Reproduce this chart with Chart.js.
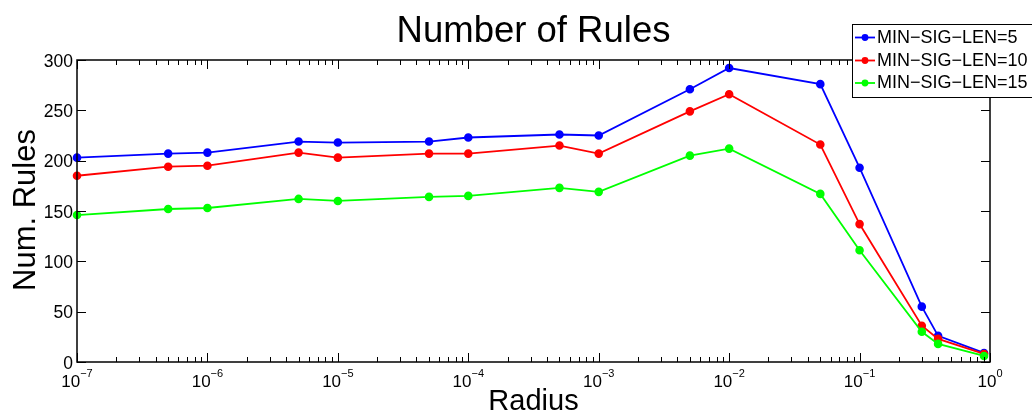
<!DOCTYPE html>
<html>
<head>
<meta charset="utf-8">
<title>Number of Rules</title>
<script src="https://cdn.jsdelivr.net/npm/chart.js@4.4.1/dist/chart.umd.min.js"></script>
<style>
  html, body { margin: 0; padding: 0; background: #ffffff; }
  canvas { display: block; }
</style>
</head>
<body>
<canvas id="chart" width="1032" height="414"></canvas>
<script>
// Radius values (x, log scale) and rule counts per minimum signature length
const radius = [1e-7, 5e-7, 1e-6, 5e-6, 1e-5, 5e-5, 1e-4, 5e-4, 1e-3, 5e-3, 1e-2, 5e-2, 1e-1, 0.3, 0.4, 0.9];
const rulesLen5  = [203, 207, 208, 219, 218, 219, 223, 226, 225, 271, 292, 276, 193, 55, 26, 9];
const rulesLen10 = [185, 194, 195, 208, 203, 207, 207, 215, 207, 249, 266, 216, 137, 36, 23, 8];
const rulesLen15 = [146, 152, 153, 162, 160, 164, 165, 173, 169, 205, 212, 167, 111, 30, 18, 6];

const seriesLabels = ['MIN\u2212SIG\u2212LEN=5', 'MIN\u2212SIG\u2212LEN=10', 'MIN\u2212SIG\u2212LEN=15'];
const seriesColors = ['#0000ff', '#ff0000', '#00ff00'];

// Decade exponents for the x tick labels, and y tick values
const decadeExponents = [-7, -6, -5, -4, -3, -2, -1, 0];
const yTicks = [0, 50, 100, 150, 200, 250, 300];

const chartTitle = 'Number of Rules';
const xTitle = 'Radius';
const yTitle = 'Num. Rules';

const FONT = "'Liberation Sans', Arial, Helvetica, sans-serif";
Chart.defaults.font.family = FONT;

function toPoints(values) {
  return radius.map((r, i) => ({ x: r, y: values[i] }));
}

const seriesValues = [rulesLen5, rulesLen10, rulesLen15];
const datasets = seriesValues.map((vals, i) => ({
  label: seriesLabels[i],
  data: toPoints(vals),
  borderColor: seriesColors[i],
  backgroundColor: seriesColors[i],
  pointBackgroundColor: seriesColors[i],
  pointBorderColor: seriesColors[i],
  borderWidth: 1.8,
  pointRadius: 3.4,
  pointHoverRadius: 3.4,
  tension: 0,
  clip: false,
  order: seriesValues.length - 1 - i
}));

// Axes box, inward ticks (MATLAB style), decade labels, titles and legend
const decorPlugin = {
  id: 'decor',
  afterDatasetsDraw(chart) {
    const ctx = chart.ctx;
    const a = chart.chartArea;
    const xs = chart.scales.x;
    const ys = chart.scales.y;
    ctx.save();

    // inward tick marks on all four sides
    ctx.strokeStyle = '#000';
    ctx.lineWidth = 1;
    ctx.beginPath();
    for (let e = -7; e < 0; e++) {
      for (let m = 1; m <= 9; m++) {
        const v = m * Math.pow(10, e);
        const px = Math.round(xs.getPixelForValue(v)) + 0.5;
        const len = m === 1 ? 9 : 5;
        ctx.moveTo(px, a.bottom); ctx.lineTo(px, a.bottom - len);
        ctx.moveTo(px, a.top); ctx.lineTo(px, a.top + len);
      }
    }
    const pEnd = Math.round(xs.getPixelForValue(1)) + 0.5;
    ctx.moveTo(pEnd, a.bottom); ctx.lineTo(pEnd, a.bottom - 9);
    ctx.moveTo(pEnd, a.top); ctx.lineTo(pEnd, a.top + 9);
    yTicks.forEach(v => {
      const py = Math.round(ys.getPixelForValue(v)) + 0.5;
      ctx.moveTo(a.left, py); ctx.lineTo(a.left + 9, py);
      ctx.moveTo(a.right, py); ctx.lineTo(a.right - 9, py);
    });
    ctx.stroke();

    // axes box
    ctx.lineWidth = 1.5;
    ctx.strokeRect(a.left, a.top, a.right - a.left, a.bottom - a.top);

    // x tick labels: 10 with superscript exponent
    ctx.fillStyle = '#000';
    ctx.textBaseline = 'alphabetic';
    decadeExponents.forEach(e => {
      const px = xs.getPixelForValue(Math.pow(10, e));
      const base = '10';
      const exp = e < 0 ? '\u2212' + Math.abs(e) : String(e);
      ctx.font = '17px ' + FONT;
      const wb = ctx.measureText(base).width;
      ctx.font = '11px ' + FONT;
      const we = ctx.measureText(exp).width;
      const x0 = px - (wb + we) / 2;
      ctx.font = '17px ' + FONT;
      ctx.textAlign = 'left';
      ctx.fillText(base, x0, a.bottom + 25);
      ctx.font = '11px ' + FONT;
      ctx.fillText(exp, x0 + wb, a.bottom + 15);
    });

    // chart title
    const cx = (a.left + a.right) / 2;
    ctx.textAlign = 'center';
    ctx.font = '36.5px ' + FONT;
    ctx.fillText(chartTitle, cx, 42);

    // x axis title
    ctx.font = '29px ' + FONT;
    ctx.fillText(xTitle, cx, 410);

    // y axis title
    ctx.save();
    ctx.translate(35, (a.top + a.bottom) / 2 - 1);
    ctx.rotate(-Math.PI / 2);
    ctx.font = '31px ' + FONT;
    ctx.textAlign = 'center';
    ctx.fillText(yTitle, 0, 0);
    ctx.restore();

    // legend box
    const lx = 852.5, ly = 24.5, lw = 190, lh = 73;
    ctx.fillStyle = '#fff';
    ctx.fillRect(lx, ly, lw, lh);
    ctx.strokeStyle = '#000';
    ctx.lineWidth = 1;
    ctx.strokeRect(lx, ly, lw, lh);
    const rowY = [37.5, 60.5, 83];
    chart.data.datasets.forEach((ds, i) => {
      const y = rowY[i];
      ctx.strokeStyle = ds.borderColor;
      ctx.lineWidth = 1.8;
      ctx.beginPath();
      ctx.moveTo(855, y); ctx.lineTo(875, y);
      ctx.stroke();
      ctx.fillStyle = ds.borderColor;
      ctx.beginPath();
      ctx.arc(865, y, 3.4, 0, Math.PI * 2);
      ctx.fill();
      ctx.fillStyle = '#000';
      ctx.font = '18px ' + FONT;
      ctx.textAlign = 'left';
      ctx.textBaseline = 'middle';
      ctx.fillText(ds.label, 877, y + 0.5);
    });

    ctx.restore();
  }
};

new Chart(document.getElementById('chart'), {
  type: 'line',
  data: { datasets },
  options: {
    responsive: false,
    animation: false,
    devicePixelRatio: 1,
    layout: { padding: { top: 60, right: 42, left: 0, bottom: 0 } },
    plugins: {
      legend: { display: false },
      title: { display: false },
      tooltip: { enabled: false }
    },
    scales: {
      x: {
        type: 'logarithmic',
        min: 1e-7,
        max: 1,
        grid: { display: false },
        border: { display: false },
        ticks: { display: false },
        afterFit(scale) { scale.height = 52; }
      },
      y: {
        min: 0,
        max: 300,
        grid: { display: false, drawTicks: false },
        border: { display: false },
        ticks: {
          stepSize: 50,
          color: '#000',
          padding: 4,
          labelOffset: 2,
          font: { size: 17.5, family: FONT }
        },
        afterFit(scale) { scale.width = 77; }
      }
    }
  },
  plugins: [decorPlugin]
});
</script>
</body>
</html>
